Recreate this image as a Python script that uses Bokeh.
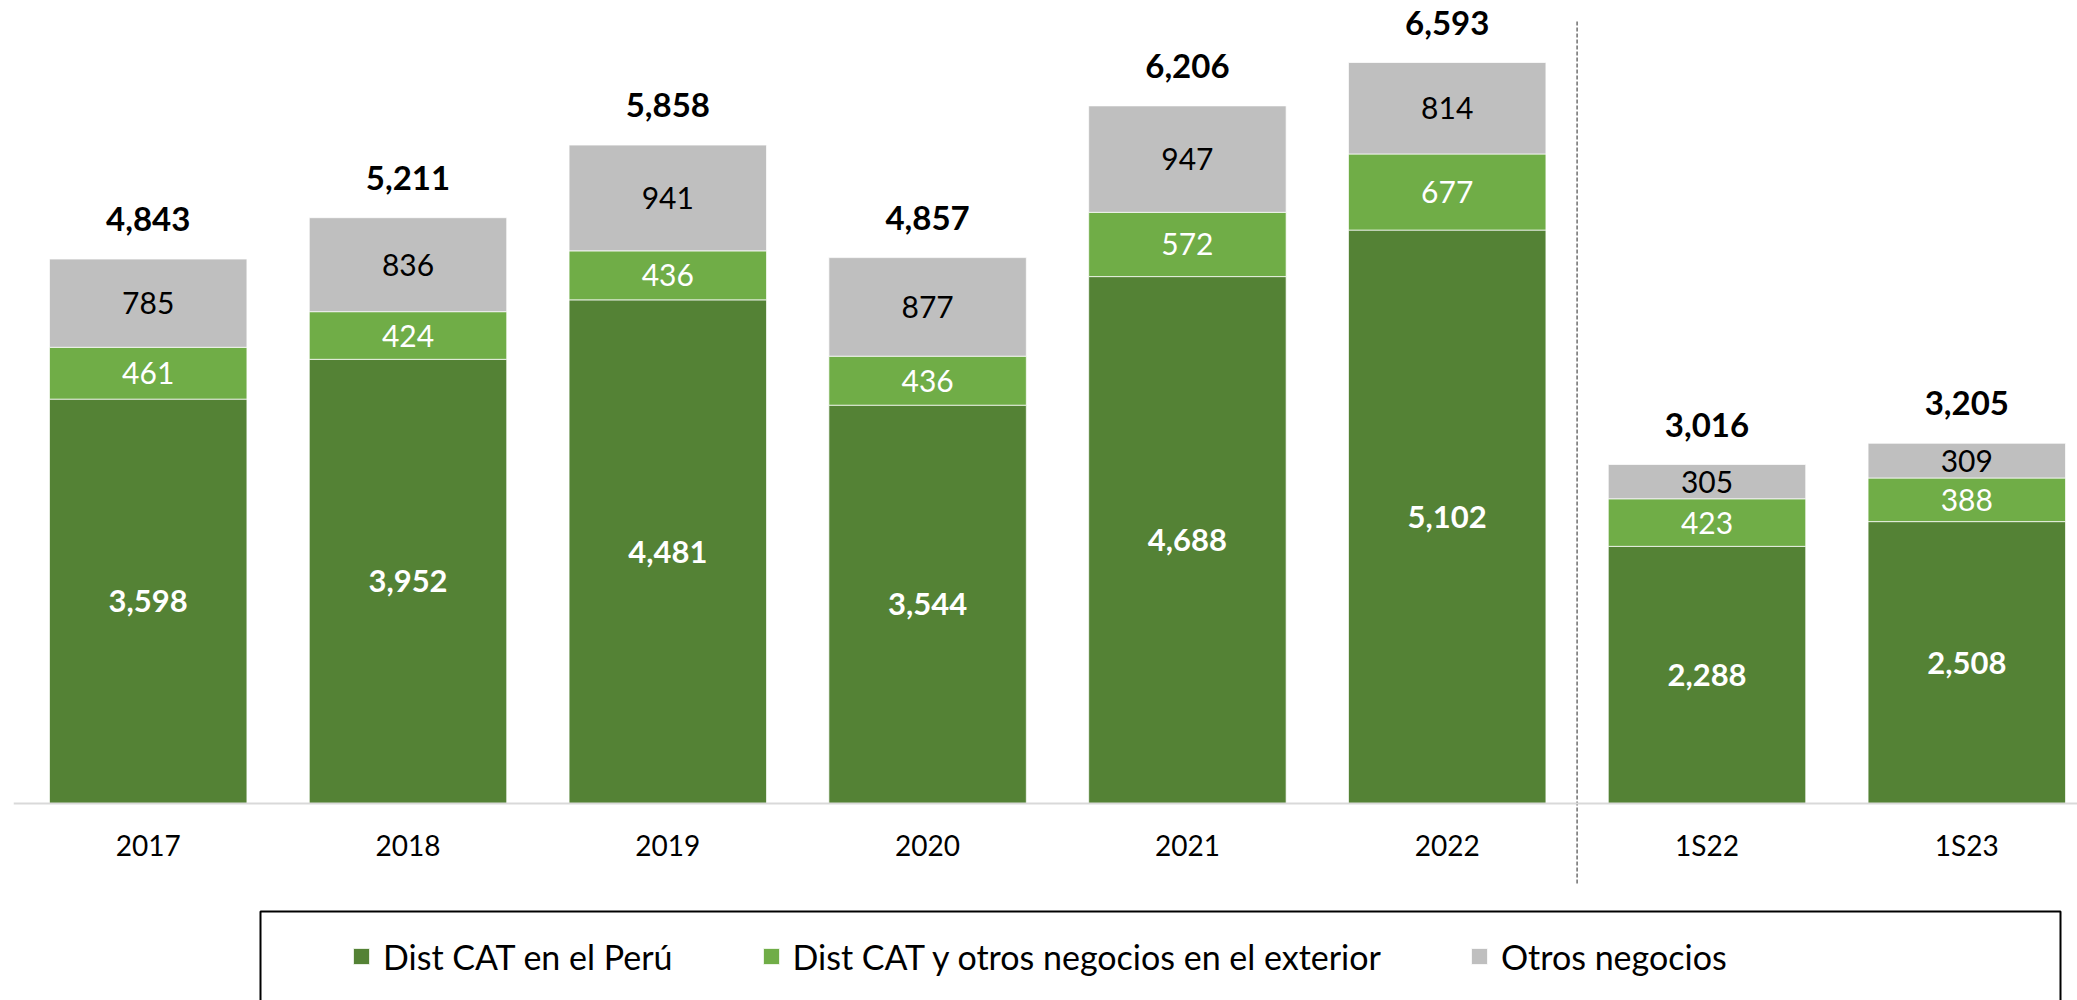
import numpy as np
from bokeh.plotting import figure
from bokeh.models import (ColumnDataSource, Range1d, FixedTicker, Legend,
                          LegendItem, BoxAnnotation)
from bokeh.core.properties import value
from bokeh.embed import file_html
from bokeh.resources import INLINE

# ---------------- data ----------------
categories = ["2017", "2018", "2019", "2020", "2021", "2022", "1S22", "1S23"]
peru = [3598, 3952, 4481, 3544, 4688, 5102, 2288, 2508]
exterior = [461, 424, 436, 436, 572, 677, 423, 388]
otros = [785, 836, 941, 877, 947, 814, 305, 309]
totals = [4843, 5211, 5858, 4857, 6206, 6593, 3016, 3205]
series_names = ["Dist CAT en el Perú",
                "Dist CAT y otros negocios en el exterior",
                "Otros negocios"]
n_annual = 6  # the first six categories are full years

# ---------------- layout constants ----------------
W, H = 2077, 1000
FONT = "Lato"
C_DARK, C_LIGHT, C_GRAY = "#548235", "#70AD47", "#BFBFBF"

X_CENTER0 = 147.7      # canvas px of first bar centre
DX = 259.8             # px per category
FRAME_LEFT = 13
BASE_Y = 803           # canvas px of the zero line
SY = 741.0 / 6593.0    # px per unit

def xd(cx):
    return (cx - X_CENTER0) / DX

def yd(cy):
    return (BASE_Y - cy) / SY

x_start, x_end = xd(FRAME_LEFT), xd(W)
y_start, y_end = yd(H), yd(0)

idx = np.arange(len(categories))
peru_a = np.array(peru)
ext_a = np.array(exterior)
otr_a = np.array(otros)

src = ColumnDataSource(dict(
    x=idx, cat=categories, peru=peru, exterior=exterior, otros=otros,
    tot=totals,
    tot_lbl=[f"{v:,}" for v in totals],
    peru_mid=peru_a / 2.0,
    peru_lbl=[f"{v:,}" for v in peru],
    ext_mid=peru_a + ext_a / 2.0,
    ext_lbl=[f"{v:,}" for v in exterior],
    otr_mid=peru_a + ext_a + otr_a / 2.0,
    otr_lbl=[f"{v:,}" for v in otros],
))

p = figure(width=W, height=H, output_backend="svg", toolbar_location=None,
           x_range=Range1d(x_start, x_end), y_range=Range1d(y_start, y_end),
           min_border_left=FRAME_LEFT, min_border_right=0,
           min_border_top=0, min_border_bottom=0)
p.outline_line_color = None
p.xgrid.visible = False
p.ygrid.visible = False
p.yaxis.visible = False
p.background_fill_color = "white"
p.border_fill_color = "white"

renderers = p.vbar_stack(["peru", "exterior", "otros"], x="x", width=0.76,
                         color=[C_DARK, C_LIGHT, C_GRAY], source=src,
                         line_color="white", line_width=1, line_alpha=0.7)

# x axis at the zero line
xa = p.xaxis[0]
xa.fixed_location = 0
xa.ticker = FixedTicker(ticks=list(idx))
xa.major_label_overrides = {int(i): c for i, c in zip(idx, categories)}
xa.axis_line_color = "#D9D9D9"
xa.axis_line_width = 2
xa.major_tick_line_color = None
xa.minor_tick_line_color = None
xa.major_label_standoff = 18
xa.major_label_text_font = FONT
xa.major_label_text_font_size = "28px"
xa.major_label_text_color = "black"

# segment labels
p.text(x="x", y="peru_mid", text="peru_lbl", source=src,
       text_font=value(FONT), text_font_size="31px", text_font_style="bold",
       text_color="white", text_align="center", text_baseline="middle")
p.text(x="x", y="ext_mid", text="ext_lbl", source=src,
       text_font=value(FONT), text_font_size="30px",
       text_color="white", text_align="center", text_baseline="middle")
p.text(x="x", y="otr_mid", text="otr_lbl", source=src,
       text_font=value(FONT), text_font_size="30px",
       text_color="black", text_align="center", text_baseline="middle")
# totals
p.text(x="x", y="tot", text="tot_lbl", source=src, y_offset=-40,
       text_font=value(FONT), text_font_size="33px", text_font_style="bold",
       text_color="black", text_align="center", text_baseline="middle")

# dashed separator between annual and half-year figures
sep_x = n_annual - 0.5
p.segment(x0=[sep_x], y0=[yd(883)], x1=[sep_x], y1=[yd(20)],
          line_color="#6F6F6F", line_width=1.5, line_dash="4 2")

# legend frame
p.add_layout(BoxAnnotation(left=xd(260), right=xd(2060), top=yd(911),
                           bottom=yd(1300), fill_alpha=0,
                           line_color="black", line_alpha=1.0, line_width=2,
                           level="overlay"))

legend = Legend(items=[LegendItem(label=n, renderers=[r])
                       for n, r in zip(series_names, renderers)],
                orientation="horizontal", location=(338, 23),
                padding=0, margin=0, spacing=88,
                glyph_width=20, glyph_height=20, label_standoff=12,
                label_height=42,
                label_text_font=FONT, label_text_font_size="34px",
                label_text_color="black",
                border_line_alpha=0, background_fill_alpha=0)
p.add_layout(legend, "center")

open("out.html", "w").write(file_html(p, INLINE))
